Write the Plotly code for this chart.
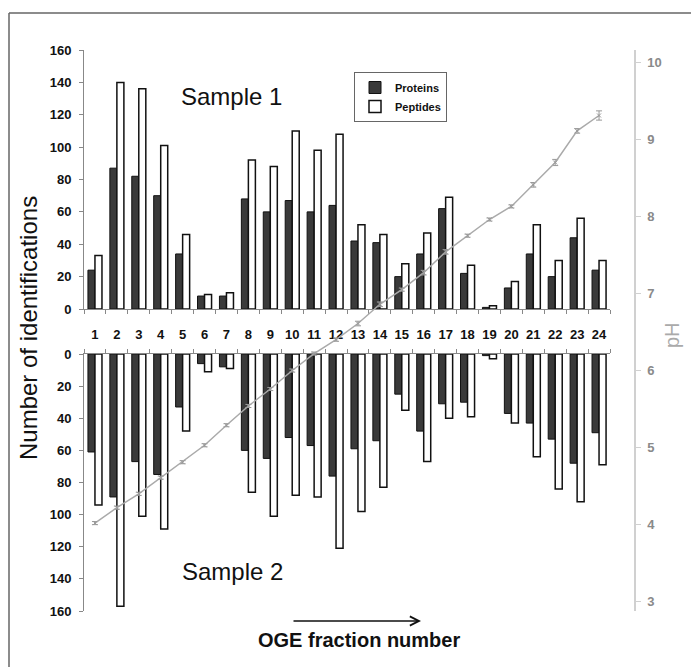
import plotly.graph_objects as go

fractions = [str(i) for i in range(1, 25)]
frac_num = list(range(1, 25))

s1_proteins = [24, 87, 82, 70, 34, 8, 8, 68, 60, 67, 60, 64, 42, 41, 20, 34, 62, 22, 1, 13, 34, 20, 44, 24]
s1_peptides = [33, 140, 136, 101, 46, 9, 10, 92, 88, 110, 98, 108, 52, 46, 28, 47, 69, 27, 2, 17, 52, 30, 56, 30]
s2_proteins = [61, 89, 67, 75, 33, 6, 8, 60, 65, 52, 57, 76, 59, 54, 25, 48, 31, 30, 1, 37, 43, 53, 68, 49]
s2_peptides = [94, 157, 101, 109, 48, 11, 9, 86, 101, 88, 89, 121, 98, 83, 35, 67, 40, 39, 3, 43, 64, 84, 92, 69]
ph_values = [4.02, 4.22, 4.40, 4.61, 4.81, 5.03, 5.29, 5.54, 5.76, 6.00, 6.22, 6.40,
             6.61, 6.86, 7.05, 7.27, 7.54, 7.75, 7.96, 8.13, 8.41, 8.70, 9.11, 9.31]
ph_err = [0.02, 0.02, 0.02, 0.02, 0.02, 0.02, 0.02, 0.02, 0.02, 0.02, 0.02, 0.02,
          0.03, 0.03, 0.02, 0.03, 0.03, 0.02, 0.02, 0.02, 0.03, 0.04, 0.03, 0.06]
left_ticks = [0, 20, 40, 60, 80, 100, 120, 140, 160]
ph_ticks = [3, 4, 5, 6, 7, 8, 9, 10]

FONT = "Arial, Liberation Sans, sans-serif"
DARK = "#3a3a3a"

fig = go.Figure()
fig.add_trace(go.Bar(x=fractions, y=s1_proteins, name="Proteins", xaxis="x", yaxis="y",
                     marker=dict(color=DARK, line=dict(color="#111", width=1))))
fig.add_trace(go.Bar(x=fractions, y=s1_peptides, name="Peptides", xaxis="x", yaxis="y",
                     marker=dict(color="white", line=dict(color="#111", width=1.5))))
fig.add_trace(go.Bar(x=fractions, y=s2_proteins, name="Proteins", xaxis="x2", yaxis="y2",
                     showlegend=False, marker=dict(color=DARK, line=dict(color="#111", width=1))))
fig.add_trace(go.Bar(x=fractions, y=s2_peptides, name="Peptides", xaxis="x2", yaxis="y2",
                     showlegend=False, marker=dict(color="white", line=dict(color="#111", width=1.5))))
fig.add_trace(go.Scatter(x=frac_num, y=ph_values, xaxis="x3", yaxis="y3", mode="lines+markers",
                         showlegend=False,
                         line=dict(color="#aaaaaa", width=1.5),
                         marker=dict(symbol="x-thin", size=4, line=dict(color="#999", width=1), color="#999"),
                         error_y=dict(type="data", array=ph_err, color="#999", thickness=1, width=3)))

xdom = [0, 526 / 551]
top_dom = [(611 - 309) / 561, 1.0]
bot_dom = [0, (611 - 354) / 561]

axis_common = dict(showline=True, linecolor="#888", linewidth=1, ticks="outside",
                   tickcolor="#888", ticklen=4, showgrid=False, zeroline=False)

fig.update_layout(
    width=691, height=667,
    margin=dict(l=84, r=56, t=50, b=56),
    paper_bgcolor="white", plot_bgcolor="rgba(0,0,0,0)",
    barmode="group", bargap=0.36, bargroupgap=0,
    font=dict(family=FONT, color="#111"),
    xaxis=dict(domain=xdom, anchor="y", tickson="boundaries", showticklabels=True, tickangle=0,
               tickfont=dict(family=FONT, size=13, color="#111", weight="bold"),
               ticklabelstandoff=13, **axis_common),
    xaxis2=dict(domain=xdom, anchor="y2", side="top", tickson="boundaries",
                showticklabels=False, **axis_common),
    xaxis3=dict(domain=xdom, anchor="y3", range=[0.5, 24.5], visible=False),
    yaxis=dict(domain=top_dom, anchor="x", range=[0, 160], tickvals=left_ticks,
               tickfont=dict(family=FONT, size=13, color="#111", weight="bold"),
               ticklabelstandoff=5, **axis_common),
    yaxis2=dict(domain=bot_dom, anchor="x2", range=[160, 0], tickvals=left_ticks,
                tickfont=dict(family=FONT, size=13, color="#111", weight="bold"),
                ticklabelstandoff=5, **axis_common),
    yaxis3=dict(domain=[0, 1], anchor="free", position=1.0, side="right",
                range=[2.879, 10.16], tickvals=ph_ticks,
                showline=True, linecolor="#d0d0d0", linewidth=1.5, ticks="outside",
                tickcolor="#d0d0d0", ticklen=5, showgrid=False, zeroline=False,
                tickfont=dict(family=FONT, size=13, color="#8a8a8a", weight="bold"),
                ticklabelstandoff=4),
    legend=dict(x=(354 - 84) / 551, y=(611 - 72) / 561, xanchor="left", yanchor="top",
                bgcolor="white", bordercolor="#666", borderwidth=1,
                font=dict(family=FONT, size=11, color="#111", weight="bold"),
                itemwidth=30, tracegroupgap=2),
)

annos = [
    dict(text="Sample 1", x=(231 - 84) / 551, y=(611 - 96) / 561, font=dict(size=24, family=FONT, color="#111")),
    dict(text="Sample 2", x=(232 - 84) / 551, y=(611 - 571) / 561, font=dict(size=24, family=FONT, color="#111")),
    dict(text="Number of identifications", x=(29 - 84) / 551, y=(611 - 328) / 561, textangle=-90,
         font=dict(size=24, family=FONT, color="#111")),
    dict(text="pH", x=(672 - 84) / 551, y=(611 - 335) / 561, textangle=-90,
         font=dict(size=20, family=FONT, color="#aaaaaa")),
    dict(text="<b>OGE fraction number</b>", x=(359 - 84) / 551, y=(611 - 640) / 561,
         font=dict(size=20, family=FONT, color="#111")),
]
for a in annos:
    fig.add_annotation(xref="paper", yref="paper", showarrow=False, xanchor="center", yanchor="middle", **a)

# arrow under the chart
fig.add_annotation(xref="paper", yref="paper", axref="pixel", ayref="pixel",
                   x=(421 - 84) / 551, y=(611 - 621) / 561, ax=-129, ay=0,
                   showarrow=True, arrowhead=5, arrowsize=1.2, arrowwidth=1.5, arrowcolor="#111", text="")

# frame (left and top edges visible)
fig.add_shape(type="line", xref="paper", yref="paper", x0=(9 - 84) / 551, x1=(9 - 84) / 551,
              y0=(611 - 13) / 561, y1=(611 - 667) / 561, line=dict(color="#666", width=1.5))
fig.add_shape(type="line", xref="paper", yref="paper", x0=(9 - 84) / 551, x1=(691 - 84) / 551,
              y0=(611 - 13) / 561, y1=(611 - 13) / 561, line=dict(color="#666", width=1.5))

fig.write_html("out.html", config={"displayModeBar": False},
               post_script="document.body.style.margin='0';document.body.style.overflow='hidden';")
